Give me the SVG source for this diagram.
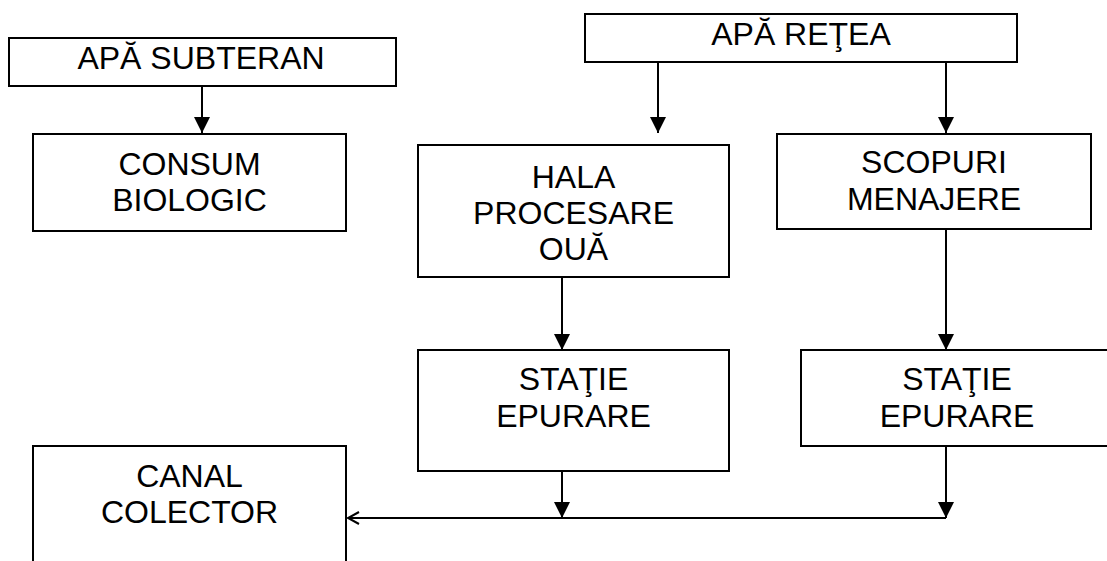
<svg xmlns="http://www.w3.org/2000/svg" width="1107" height="561" viewBox="0 0 1107 561">
<style>
.box{fill:#fff;stroke:#000;stroke-width:2}
.lbl{font-family:"Liberation Sans",Arial,sans-serif;font-size:32px;fill:#000;text-anchor:middle}
.con{fill:none;stroke:#000;stroke-width:2}
</style>
<defs>
<marker id="tri" markerUnits="userSpaceOnUse" markerWidth="16" markerHeight="16" refX="16" refY="8" orient="auto">
<path d="M0,0 L16,8 L0,16 z" fill="#000"/>
</marker>
<marker id="open" markerUnits="userSpaceOnUse" markerWidth="14" markerHeight="16" refX="12" refY="7" orient="auto">
<path d="M1,1 L12,7 L1,13" fill="none" stroke="#000" stroke-width="2"/>
</marker>
</defs>
<rect width="1107" height="561" fill="#fff"/>
<g id="apa-subteran"><rect class="box" x="9" y="38" width="387" height="48"/><text class="lbl" x="201" y="69">APĂ SUBTERAN</text></g>
<g id="consum-biologic"><rect class="box" x="33" y="134" width="313" height="97"/><text class="lbl" x="189.5" y="175">CONSUM</text><text class="lbl" x="189.5" y="211">BIOLOGIC</text></g>
<g id="apa-retea"><rect class="box" x="585" y="14" width="432" height="48"/><text class="lbl" x="801" y="45">APĂ REŢEA</text></g>
<g id="hala"><rect class="box" x="418" y="145" width="311" height="132"/><text class="lbl" x="573.5" y="188">HALA</text><text class="lbl" x="573.5" y="224">PROCESARE</text><text class="lbl" x="573.5" y="260">OUĂ</text></g>
<g id="scopuri"><rect class="box" x="777" y="134" width="314" height="95"/><text class="lbl" x="934" y="173">SCOPURI</text><text class="lbl" x="934" y="210">MENAJERE</text></g>
<g id="statie1"><rect class="box" x="418" y="350" width="311" height="121"/><text class="lbl" x="573.5" y="390">STAŢIE</text><text class="lbl" x="573.5" y="427">EPURARE</text></g>
<g id="statie2"><rect class="box" x="801" y="350" width="312" height="96"/><text class="lbl" x="957" y="390">STAŢIE</text><text class="lbl" x="957" y="427">EPURARE</text></g>
<g id="canal"><rect class="box" x="33" y="446" width="313" height="140"/><text class="lbl" x="189.5" y="487">CANAL</text><text class="lbl" x="189.5" y="523">COLECTOR</text></g>
<g id="connectors">
<path class="con" d="M202,86 L202,133" marker-end="url(#tri)"/>
<path class="con" d="M658,62 L658,133" marker-end="url(#tri)"/>
<path class="con" d="M946,62 L946,133" marker-end="url(#tri)"/>
<path class="con" d="M562,277 L562,350" marker-end="url(#tri)"/>
<path class="con" d="M946,229 L946,350" marker-end="url(#tri)"/>
<path class="con" d="M562,471 L562,518" marker-end="url(#tri)"/>
<path class="con" d="M946,446 L946,518" marker-end="url(#tri)"/>
<path class="con" d="M946,518 L348,518" marker-end="url(#open)"/>
</g>
</svg>
